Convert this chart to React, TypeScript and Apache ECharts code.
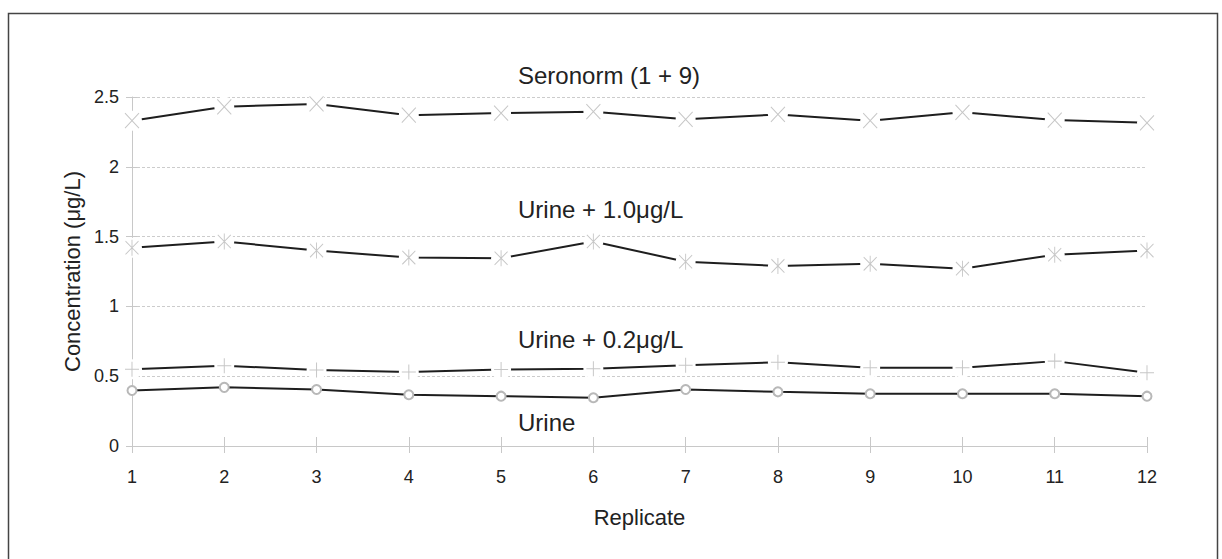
import React, { useEffect, useRef } from "react";
import * as echarts from "echarts";

const replicates = ["1", "2", "3", "4", "5", "6", "7", "8", "9", "10", "11", "12"];
const seronorm = [2.33, 2.43, 2.45, 2.37, 2.385, 2.395, 2.34, 2.375, 2.33, 2.39, 2.335, 2.315];
const urine10 = [1.42, 1.465, 1.4, 1.35, 1.345, 1.465, 1.32, 1.29, 1.305, 1.27, 1.37, 1.4];
const urine02 = [0.55, 0.575, 0.545, 0.53, 0.548, 0.553, 0.578, 0.6, 0.56, 0.56, 0.608, 0.525];
const urine = [0.398, 0.42, 0.405, 0.367, 0.357, 0.346, 0.405, 0.388, 0.374, 0.374, 0.374, 0.357];
const yTicks = { min: 0, max: 2.5, interval: 0.5 };
const labels = [
  { text: "Seronorm (1 + 9)", top: 63 },
  { text: "Urine + 1.0μg/L", top: 197 },
  { text: "Urine + 0.2μg/L", top: 327 },
  { text: "Urine", top: 410 },
];

const FONT = '"Liberation Sans", Arial, sans-serif';
const MARK = "#b8b8b8";
const LINE = "#1e1e1e";

const X_PATH = "path://M0,0L10,10M10,0L0,10";
const AST_PATH = "path://M0,0L10,10M10,0L0,10M5,-1L5,11";
const PLUS_PATH = "path://M5,0L5,10M0,5L10,5";

function gapLine(name: string, data: number[]) {
  return {
    name,
    type: "line",
    data,
    symbol: "circle",
    symbolSize: 20,
    showAllSymbol: true,
    clip: false,
    itemStyle: { color: "#ffffff", borderWidth: 0 },
    lineStyle: { color: LINE, width: 2 },
    emphasis: { disabled: true },
    z: 2,
  };
}

function markers(name: string, data: number[], symbol: string, size: number[]) {
  return {
    name: name + " markers",
    type: "scatter",
    data,
    symbol,
    symbolSize: size,
    clip: false,
    itemStyle: { color: "rgba(0,0,0,0)", borderColor: MARK, borderWidth: 1 },
    emphasis: { disabled: true },
    z: 3,
  };
}

export default function App() {
  const ref = useRef<HTMLDivElement>(null);
  useEffect(() => {
    if (!ref.current) return;
    const chart = echarts.init(ref.current, null, { renderer: "svg" });
    chart.setOption({
      animation: false,
      backgroundColor: "#ffffff",
      textStyle: { fontFamily: FONT },
      grid: { left: 132, right: 75, top: 97, bottom: 113, containLabel: false },
      xAxis: [
        {
          type: "category",
          data: replicates,
          boundaryGap: false,
          name: "Replicate",
          nameLocation: "middle",
          nameGap: 60,
          nameTextStyle: { fontSize: 22, color: "#222", fontFamily: FONT },
          axisLine: { lineStyle: { color: "#c8c8c8", width: 1 } },
          axisTick: { show: true, length: 7, lineStyle: { color: "#c8c8c8" }, alignWithLabel: true },
          axisLabel: { fontSize: 18, color: "#222", margin: 22, fontFamily: FONT },
          splitLine: { show: false },
        },
        {
          type: "category",
          data: replicates,
          boundaryGap: false,
          position: "bottom",
          axisLine: { show: false },
          axisTick: { show: true, inside: true, length: 9, lineStyle: { color: "#c8c8c8" } },
          axisLabel: { show: false },
          splitLine: { show: false },
        },
      ],
      yAxis: [
        {
          type: "value",
          min: yTicks.min,
          max: yTicks.max,
          interval: yTicks.interval,
          name: "Concentration (μg/L)",
          nameLocation: "middle",
          nameGap: 44,
          nameTextStyle: { fontSize: 22, color: "#222", fontFamily: FONT },
          axisLine: { show: true, lineStyle: { color: "#c8c8c8", width: 1 } },
          axisTick: { show: true, length: 6, lineStyle: { color: "#c8c8c8" } },
          axisLabel: { fontSize: 18, color: "#222", margin: 13, fontFamily: FONT },
          splitLine: { show: true, lineStyle: { color: "#cccccc", type: [3, 2], width: 1 } },
        },
        {
          type: "value",
          min: yTicks.min,
          max: yTicks.max,
          interval: yTicks.interval,
          position: "left",
          axisLine: { show: false },
          axisTick: { show: true, inside: true, length: 5, lineStyle: { color: "#c8c8c8" } },
          axisLabel: { show: false },
          splitLine: { show: false },
        },
      ],
      graphic: [
        {
          type: "rect",
          left: 6,
          top: 11,
          shape: { width: 1209, height: 600 },
          style: { fill: "none", stroke: "#444", lineWidth: 1.5 },
          silent: true,
          z: -1,
        },
        ...labels.map((l) => ({
          type: "text",
          left: 518,
          top: l.top,
          style: { text: l.text, font: `24px ${FONT}`, fill: "#222" },
          silent: true,
        })),
      ],
      series: [
        gapLine("Seronorm (1 + 9)", seronorm),
        gapLine("Urine + 1.0μg/L", urine10),
        gapLine("Urine + 0.2μg/L", urine02),
        {
          name: "Urine",
          type: "line",
          data: urine,
          symbol: "emptyCircle",
          symbolSize: 9,
          showAllSymbol: true,
          clip: false,
          itemStyle: { color: MARK, borderColor: MARK, borderWidth: 1 },
          lineStyle: { color: LINE, width: 2 },
          emphasis: { disabled: true },
          z: 3,
        },
        markers("Seronorm (1 + 9)", seronorm, X_PATH, [14, 15]),
        markers("Urine + 1.0μg/L", urine10, AST_PATH, [13, 16]),
        markers("Urine + 0.2μg/L", urine02, PLUS_PATH, [14, 15]),
      ],
    });
    return () => chart.dispose();
  }, []);
  return (
    <div
      ref={ref}
      style={{ position: "fixed", left: 0, top: 0, width: 1222, height: 559, background: "#fff" }}
    />
  );
}
